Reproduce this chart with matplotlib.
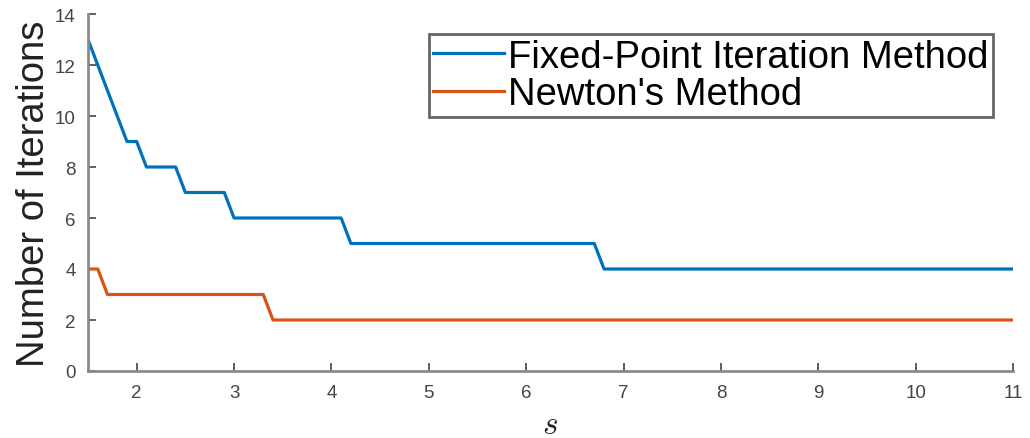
import matplotlib
matplotlib.use("Agg")
import matplotlib.pyplot as plt

# breakpoints of the step curves (s, iterations)
FP_S     = [1.5, 1.6, 1.7, 1.8, 1.9, 2.0, 2.1, 2.4, 2.5, 2.9, 3.0, 4.1, 4.2, 6.7, 6.8, 11.0]
FP_ITERS = [13, 12, 11, 10, 9, 9, 8, 8, 7, 7, 6, 6, 5, 5, 4, 4]
NW_S     = [1.5, 1.6, 1.7, 3.3, 3.4, 11.0]
NW_ITERS = [4, 4, 3, 3, 2, 2]

X_TICKS = [2, 3, 4, 5, 6, 7, 8, 9, 10, 11]
Y_TICKS = [0, 2, 4, 6, 8, 10, 12, 14]

BLUE   = "#0072BD"
ORANGE = "#D95319"
AXIS   = "#8a8a8a"

plt.rcParams["font.family"] = ["Liberation Sans", "DejaVu Sans"]
plt.rcParams["mathtext.fontset"] = "cm"

fig = plt.figure(figsize=(10.3, 4.39), dpi=100)
ax = fig.add_axes([88 / 1030, 1 - 372 / 439, (1013 - 88) / 1030, (372 - 15) / 439])

ax.plot(FP_S, FP_ITERS, color=BLUE, linewidth=2.3, label="Fixed-Point Iteration Method")
ax.plot(NW_S, NW_ITERS, color=ORANGE, linewidth=2.3, label="Newton's Method")

ax.set_xlim(1.5, 11)
ax.set_ylim(0, 14)
ax.set_xticks(X_TICKS)
ax.set_yticks(Y_TICKS)
ax.tick_params(direction="in", length=6, width=1.2, color="#444444",
               labelsize=13.5, labelcolor="#444444", pad=9)
ax.spines[["top", "right"]].set_visible(False)
for side in ["left", "bottom"]:
    ax.spines[side].set_color(AXIS)
    ax.spines[side].set_linewidth(2)

ax.set_ylabel("Number of Iterations", fontsize=27.5, color="#222222", labelpad=2)
ax.set_xlabel("$s$", fontsize=24, color="#222222", labelpad=6)

leg = ax.legend(loc="upper right", bbox_to_anchor=(0.978, 0.944), fontsize=27.5,
                frameon=True, fancybox=False, framealpha=1, borderpad=0.12,
                handlelength=1.85, handletextpad=0.1, labelspacing=0.05,
                borderaxespad=0)
leg.get_frame().set_edgecolor("#666666")
leg.get_frame().set_linewidth(2)

fig.savefig("out.png", dpi=100)
